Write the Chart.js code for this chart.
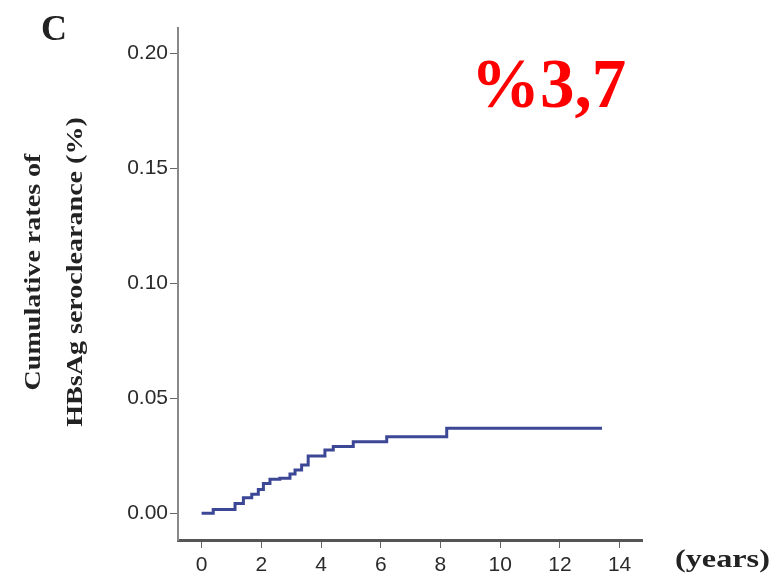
<!DOCTYPE html>
<html>
<head>
<meta charset="utf-8">
<script src="https://cdn.jsdelivr.net/npm/chart.js@4/dist/chart.umd.min.js"></script>
<style>
  body { margin: 0; background: #fff; }
  #wrap { width: 781px; height: 585px; position: relative; }
</style>
</head>
<body>
<div id="wrap"><canvas id="kmChart"></canvas></div>
<script>
// ===== data =====
const years = [0, 0.39, 1.12, 1.40, 1.68, 1.90, 2.07, 2.29, 2.62, 2.96, 3.13, 3.35, 3.57, 4.13, 4.41, 5.08, 6.20, 8.21, 13.41];
const cumRate = [0, 0.0017, 0.0043, 0.0068, 0.0083, 0.0104, 0.0130, 0.0148, 0.0152, 0.0171, 0.0188, 0.0210, 0.0249, 0.0275, 0.0290, 0.0311, 0.0333, 0.0370, 0.0370];
const xTickValues = [0, 2, 4, 6, 8, 10, 12, 14];
const yTickValues = [0, 0.05, 0.10, 0.15, 0.20];
const panelLabel = 'C';
const xUnitLabel = '(years)';
const yTitleLines = ['Cumulative rates of', 'HBsAg seroclearance (%)'];
const finalNote = '%3,7';

const points = years.map((x, i) => ({ x: x, y: cumRate[i] }));

// ===== texts around the plot (the source image is a bit stretched sideways) =====
const annotations = {
    id: 'annotations',
    afterDraw(chart) {
        const c = chart.ctx;
        c.save();
        c.fillStyle = '#222';
        c.font = 'bold 36px "Liberation Serif", serif';
        c.textAlign = 'center';
        c.textBaseline = 'alphabetic';
        c.fillText(panelLabel, 54, 40);
        c.restore();

        c.save();
        c.fillStyle = '#222';
        c.font = 'bold 26px "Liberation Serif", serif';
        c.textAlign = 'left';
        c.translate(675, 567);
        c.scale(1.24, 1);
        c.fillText(xUnitLabel, 0, 0);
        c.restore();

        // y title, rotated
        c.save();
        c.fillStyle = '#222';
        c.font = 'bold 23px "Liberation Serif", serif';
        c.textAlign = 'center';
        c.textBaseline = 'middle';
        c.translate(0, 272);
        c.rotate(-Math.PI / 2);
        c.scale(1.22, 1);
        c.fillText(yTitleLines[0], 0, 34);
        c.fillText(yTitleLines[1], 0, 76);
        c.restore();

        c.save();
        c.fillStyle = '#ff0000';
        c.font = 'bold 69px "Liberation Serif", serif';
        c.textAlign = 'left';
        c.textBaseline = 'alphabetic';
        c.fillText(finalNote, 471, 107);
        c.restore();
    }
};

const ctx = document.getElementById('kmChart').getContext('2d');
window.kmChart = new Chart(ctx, {
    type: 'line',
    data: {
        datasets: [{
            data: points,
            borderColor: '#3c4796',
            borderWidth: 3,
            stepped: 'before',
            pointRadius: 0,
            fill: false
        }]
    },
    options: {
        responsive: true,
        maintainAspectRatio: false,
        animation: false,
        layout: { padding: { left: 0, top: 28, right: 139, bottom: 0 } },
        plugins: { legend: { display: false }, tooltip: { enabled: false } },
        scales: {
            x: {
                type: 'linear',
                min: -0.79,
                max: 14.75,
                afterBuildTicks: s => { s.ticks = xTickValues.map(v => ({ value: v })); },
                afterFit: s => { s.height = 45; },
                border: { color: '#555', width: 3 },
                grid: { drawOnChartArea: false, drawTicks: true, tickLength: 8, color: '#666' },
                ticks: {
                    color: '#2a2a2a',
                    padding: 5,
                    font: { family: '"Liberation Sans", Arial', size: 21 },
                    callback: v => String(v)
                }
            },
            y: {
                type: 'linear',
                min: -0.0116,
                max: 0.211,
                afterBuildTicks: s => { s.ticks = yTickValues.map(v => ({ value: v })); },
                afterFit: s => { s.width = 178; },
                border: { color: '#888', width: 2 },
                grid: { drawOnChartArea: false, drawTicks: true, tickLength: 8, color: '#666' },
                ticks: {
                    color: '#2a2a2a',
                    padding: 2,
                    font: { family: '"Liberation Sans", Arial', size: 21 },
                    callback: v => v.toFixed(2)
                }
            }
        }
    },
    plugins: [annotations]
});
</script>
</body>
</html>
